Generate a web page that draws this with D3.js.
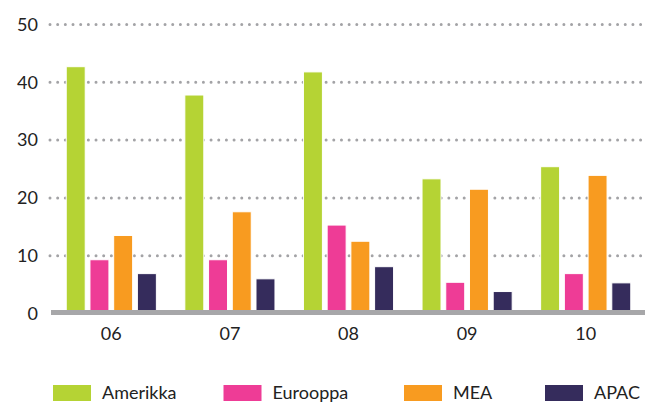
<!DOCTYPE html>
<html>
<head>
<meta charset="utf-8">
<script src="https://cdn.jsdelivr.net/npm/d3@7"></script>
<style>
    body { margin: 0; background: #fff; }
    svg { display: block; font-family: Lato, "Open Sans", sans-serif; }
</style>
</head>
<body>
<div id="chart"></div>
<script>
const years = ['06', '07', '08', '09', '10'];
const regions = ['Amerikka', 'Eurooppa', 'MEA', 'APAC'];
const amerikka = [42.7, 37.8, 41.8, 23.3, 25.4];
const eurooppa = [9.3, 9.3, 15.3, 5.4, 6.9];
const mea = [13.5, 17.6, 12.5, 21.5, 23.9];
const apac = [6.9, 6.0, 8.1, 3.8, 5.3];
const yTicks = [0, 10, 20, 30, 40, 50];
const colors = ['#b5d334', '#ee3c96', '#f89b20', '#352c5c'];

const seriesValues = [amerikka, eurooppa, mea, apac];
const rows = years.map((y, i) => ({
    year: y,
    values: regions.map((r, j) => ({key: r, val: seriesValues[j][i]}))
}));

const width = 645;
const height = 406;
const padLeft = 52;
const padTop = 24.5;
const baseY = 313.5;

const svg = d3.select('#chart').append('svg')
    .attr('width', width)
    .attr('height', height);

const x0 = d3.scaleBand()
    .domain(years)
    .range([padLeft, width])
    .paddingInner(0.24)
    .paddingOuter(0.12);

const x1 = d3.scaleBand()
    .domain(regions)
    .range([0, x0.bandwidth()])
    .paddingInner(0.2)
    .paddingOuter(0);

const y = d3.scaleLinear()
    .domain([0, 50])
    .range([baseY, padTop]);

const color = d3.scaleOrdinal().domain(regions).range(colors);

// dotted gridlines
svg.append('g')
    .selectAll('line')
    .data(yTicks.filter(t => t > 0))
    .enter().append('line')
    .attr('x1', 50)
    .attr('x2', width)
    .attr('y1', d => y(d))
    .attr('y2', d => y(d))
    .attr('stroke', '#a3a3a6')
    .attr('stroke-width', 3)
    .attr('stroke-linecap', 'round')
    .attr('stroke-dasharray', '0 7.67');

// y tick labels
svg.append('g')
    .selectAll('text')
    .data(yTicks)
    .enter().append('text')
    .attr('x', 38)
    .attr('y', d => y(d))
    .attr('dy', '0.35em')
    .attr('text-anchor', 'end')
    .attr('font-size', 18)
    .attr('fill', '#222')
    .text(d => d);

// bars
svg.append('g')
    .selectAll('g')
    .data(rows)
    .enter().append('g')
    .attr('transform', d => `translate(${x0(d.year)},0)`)
    .selectAll('rect')
    .data(d => d.values)
    .enter().append('rect')
    .attr('x', d => x1(d.key))
    .attr('width', x1.bandwidth())
    .attr('y', d => y(d.val))
    .attr('height', d => y(0) - y(d.val))
    .attr('fill', d => color(d.key))
    .attr('stroke', '#fff')
    .attr('stroke-width', 1);

// baseline
svg.append('line')
    .attr('x1', 51)
    .attr('x2', width)
    .attr('y1', y(0) - 1)
    .attr('y2', y(0) - 1)
    .attr('stroke', '#a7a7a9')
    .attr('stroke-width', 5);

// x labels
svg.append('g')
    .selectAll('text')
    .data(years)
    .enter().append('text')
    .attr('x', d => x0(d) + x0.bandwidth() / 2)
    .attr('y', 334)
    .attr('dy', '0.35em')
    .attr('text-anchor', 'middle')
    .attr('font-size', 18)
    .attr('fill', '#222')
    .text(d => d);

// legend
const legendX = [53, 223.5, 404, 545];
const legend = svg.append('g')
    .selectAll('g')
    .data(regions)
    .enter().append('g')
    .attr('transform', (d, i) => `translate(${legendX[i]},385)`);

legend.append('rect')
    .attr('width', 38)
    .attr('height', 16)
    .attr('fill', d => color(d));

legend.append('text')
    .attr('x', 49)
    .attr('y', 8)
    .attr('dy', '0.35em')
    .attr('font-size', 18)
    .attr('fill', '#222')
    .text(d => d);
</script>
</body>
</html>
